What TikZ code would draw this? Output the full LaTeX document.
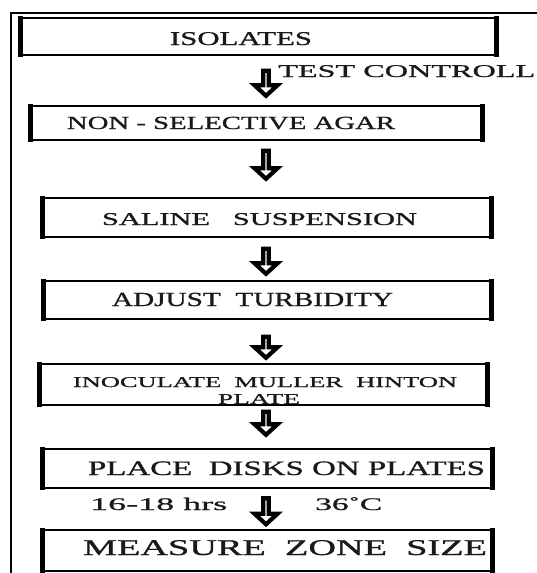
\documentclass[tikz,border=0pt]{standalone}
\usepackage{fontspec}
\setmainfont[FakeBold=0.8]{Liberation Serif}
\usepackage{graphicx}
\usetikzlibrary{shapes.arrows, positioning, calc}

% stretch a line of text to a given width, keeping its height
\newcommand{\fitw}[2]{\resizebox{#1}{\height}{#2}}

\begin{document}
\begin{tikzpicture}[x=1pt, y=-1pt]

  \tikzset{
    frame/.style={draw=black, line width=2.4pt},
    stepbox/.style={
      rectangle, draw=black, line width=2.4pt, fill=white,
      inner sep=0pt,
    },
    sidebar/.style={draw=black, line width=5.5pt},
    steptext/.style={anchor=base, inner sep=0pt, text=black!90,
      font=\bfseries},
    downarrow/.style={
      single arrow, shape border rotate=270,
      draw=black, fill=white, line width=4.2pt,
      minimum width=23pt, single arrow head extend=6.5pt,
      single arrow tip angle=95,
      inner sep=0pt, minimum height=#1,
    },
  }

  \useasboundingbox (0,0) rectangle (537,573);

  %% ---------------- OUTER FRAME ----------------
  \draw[frame] (11,573) -- (11,13) -- (537,13);

  %% ---------------- BOXES ----------------
  \node[stepbox, minimum width=477pt, minimum height=37pt] (b1) at (258.5,36.5) {};
  \node[stepbox, minimum width=453pt, minimum height=34pt] (b2) at (256.5,123) {};
  \node[stepbox, minimum width=450pt, minimum height=39pt] (b3) at (267,217.5) {};
  \node[stepbox, minimum width=449pt, minimum height=38pt] (b4) at (267.5,300) {};
  \node[stepbox, minimum width=449pt, minimum height=41pt] (b5) at (263.5,384.5) {};
  \node[stepbox, minimum width=451pt, minimum height=39pt] (b6) at (267.5,468.5) {};
  \node[stepbox, minimum width=451pt, minimum height=41pt] (b7) at (267.5,550.5) {};

  % thick left and right sides
  \foreach \b in {b1,b2,b3,b4,b5,b6,b7} {
    \draw[sidebar] ([xshift=1.5pt, yshift=1.2pt]\b.north west)
      -- ([xshift=1.5pt, yshift=-1.2pt]\b.south west);
    \draw[sidebar] ([xshift=-1.5pt, yshift=1.2pt]\b.north east)
      -- ([xshift=-1.5pt, yshift=-1.2pt]\b.south east);
  }

  %% ---------------- TEXTS ----------------
  \node[steptext, font=\fontsize{19.5}{22}\selectfont] (t1) at (241,45)
    {\fitw{142pt}{ISOLATES}};
  \node[steptext, font=\fontsize{18.5}{22}\selectfont] (t2) at (231,129)
    {\fitw{328pt}{NON - SELECTIVE AGAR}};
  \node[steptext, font=\fontsize{18}{22}\selectfont] (t3) at (259.5,225)
    {\fitw{315pt}{SALINE\ \ \ SUSPENSION}};
  \node[steptext, font=\fontsize{20}{22}\selectfont] (t4) at (252.5,306)
    {\fitw{281pt}{ADJUST\ \ TURBIDITY}};
  \node[steptext, font=\fontsize{15}{18}\selectfont] (t5) at (265,387)
    {\fitw{384pt}{INOCULATE\ \ MULLER\ \ HINTON}};
  \node[steptext, font=\fontsize{15}{18}\selectfont] (t5b) at (259,404)
    {\fitw{82pt}{PLATE}};
  \node[steptext, font=\fontsize{20.5}{24}\selectfont] (t6) at (286.5,475)
    {\fitw{397pt}{PLACE\ \ DISKS ON PLATES}};
  \node[steptext, font=\fontsize{22.5}{26}\selectfont] (t7) at (285,555)
    {\fitw{404pt}{MEASURE\ \ ZONE\ \ SIZE}};

  % side notes on the arrows
  \node[steptext, anchor=base west, font=\fontsize{18}{22}\selectfont] (n1) at (278,77)
    {\fitw{257pt}{TEST CONTROLL}};
  \node[steptext, anchor=base west, font=\fontsize{17.7}{22}\selectfont] (n2) at (90,510)
    {\fitw{137pt}{16-18 hrs}};
  \node[steptext, anchor=base west, font=\fontsize{17.7}{22}\selectfont] (n3) at (315,510)
    {\fitw{67pt}{36˚C}};

  %% ---------------- ARROWS ----------------
  \node[downarrow=25pt] (a1) at (266,82) {};
  \node[downarrow=28pt] (a2) at (266,163.5) {};
  \node[downarrow=25pt] (a3) at (266,260) {};
  \node[downarrow=21pt] (a4) at (266,346) {};
  \node[downarrow=23pt] (a5) at (266,422) {};
  \node[downarrow=26pt] (a6) at (266,510) {};

\end{tikzpicture}
\end{document}
